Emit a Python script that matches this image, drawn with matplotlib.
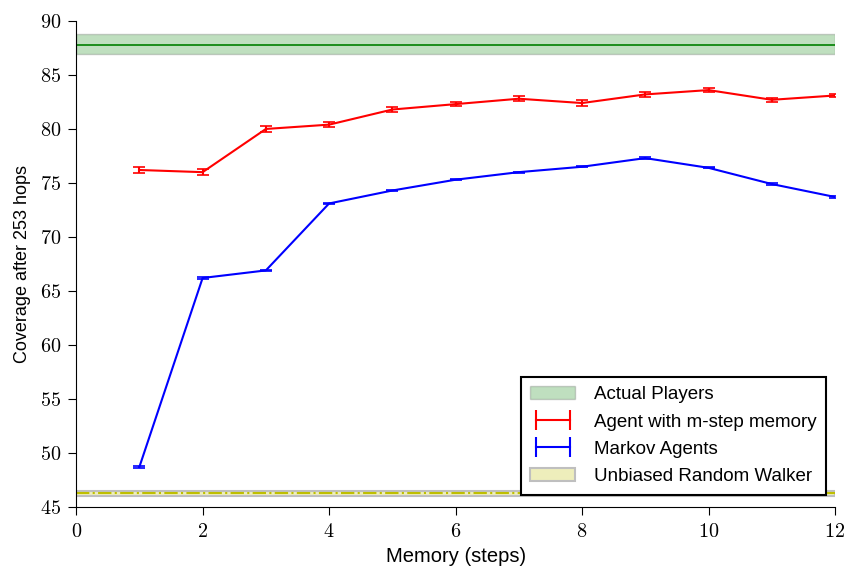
import numpy as np
import matplotlib
matplotlib.use("Agg")
from matplotlib import pyplot as plt
from matplotlib.patches import Patch
from matplotlib.lines import Line2D

memory = [1, 2, 3, 4, 5, 6, 7, 8, 9, 10, 11, 12]
agent_cov = [76.2, 76.0, 80.0, 80.4, 81.8, 82.3, 82.8, 82.4, 83.2, 83.6, 82.7, 83.1]
agent_err = [0.25, 0.25, 0.25, 0.2, 0.25, 0.2, 0.25, 0.3, 0.2, 0.2, 0.2, 0.15]
markov_cov = [48.7, 66.2, 66.9, 73.1, 74.3, 75.3, 76.0, 76.5, 77.3, 76.4, 74.9, 73.7]
markov_err = [0.08, 0.06, 0.06, 0.06, 0.06, 0.06, 0.06, 0.06, 0.06, 0.06, 0.06, 0.06]
players_mean, players_lo, players_hi = 87.8, 86.9, 88.8
random_mean, random_lo, random_hi = 46.25, 46.0, 46.5

plt.rcParams['mathtext.fontset'] = 'cm'
plt.rcParams['font.family'] = ['Liberation Sans', 'DejaVu Sans']

fig = plt.figure(figsize=(8.46, 5.67), dpi=100)
ax = fig.add_axes([0.09, 0.106, 0.897, 0.857])

# bands for players and random walker
ax.axhspan(players_lo, players_hi, facecolor='green', alpha=0.25, edgecolor='0.3')
ax.axhline(players_mean, color='green', lw=1.2)
ax.axhspan(random_lo, random_hi, facecolor='#eeeebb', edgecolor='0.75', lw=1.5)
ax.axhline(random_mean, color='y', lw=1.5, ls='-.')

ax.errorbar(memory, agent_cov, yerr=agent_err, color='red', lw=1.5, capsize=4, capthick=1.2)
ax.errorbar(memory, markov_cov, yerr=markov_err, color='blue', lw=1.5, capsize=4, capthick=1.2)

ax.set_xlim(0, 12)
ax.set_ylim(45, 90)
ax.set_xticks(range(0, 13, 2))
ax.set_xticklabels([f'${v}$' for v in range(0, 13, 2)], fontsize=14.5)
ax.set_yticks(range(45, 91, 5))
ax.set_yticklabels([f'${v}$' for v in range(45, 91, 5)], fontsize=14.5)
ax.spines['top'].set_visible(False)
ax.spines['right'].set_visible(False)
ax.tick_params(direction='out', length=6, top=False, right=False, pad=5)
ax.set_xlabel('Memory (steps)', fontsize=14.5, labelpad=4)
ax.set_ylabel('Coverage after 253 hops', fontsize=13, labelpad=6)

h_players = Patch(facecolor='green', alpha=0.25, edgecolor='0.3')
h_agent = Line2D([], [], color='red', lw=1.5, marker='|', markersize=14, mew=1.5)
h_markov = Line2D([], [], color='blue', lw=1.5, marker='|', markersize=14, mew=1.5)
h_random = Patch(facecolor='#eeeebb', edgecolor='0.75', lw=1.5)
leg = ax.legend([h_players, h_agent, h_markov, h_random],
                ['Actual Players', 'Agent with m-step memory', 'Markov Agents', 'Unbiased Random Walker'],
                loc='lower right', bbox_to_anchor=(0.988, 0.025), borderaxespad=0,
                fancybox=False, numpoints=2,
                fontsize=13.5, handlelength=2.4, borderpad=0.5, labelspacing=0.55, handletextpad=1.0)
leg.get_frame().set_edgecolor('black')
leg.get_frame().set_linewidth(1.5)
leg.get_frame().set_alpha(1)

fig.savefig('out.png', dpi=100)
